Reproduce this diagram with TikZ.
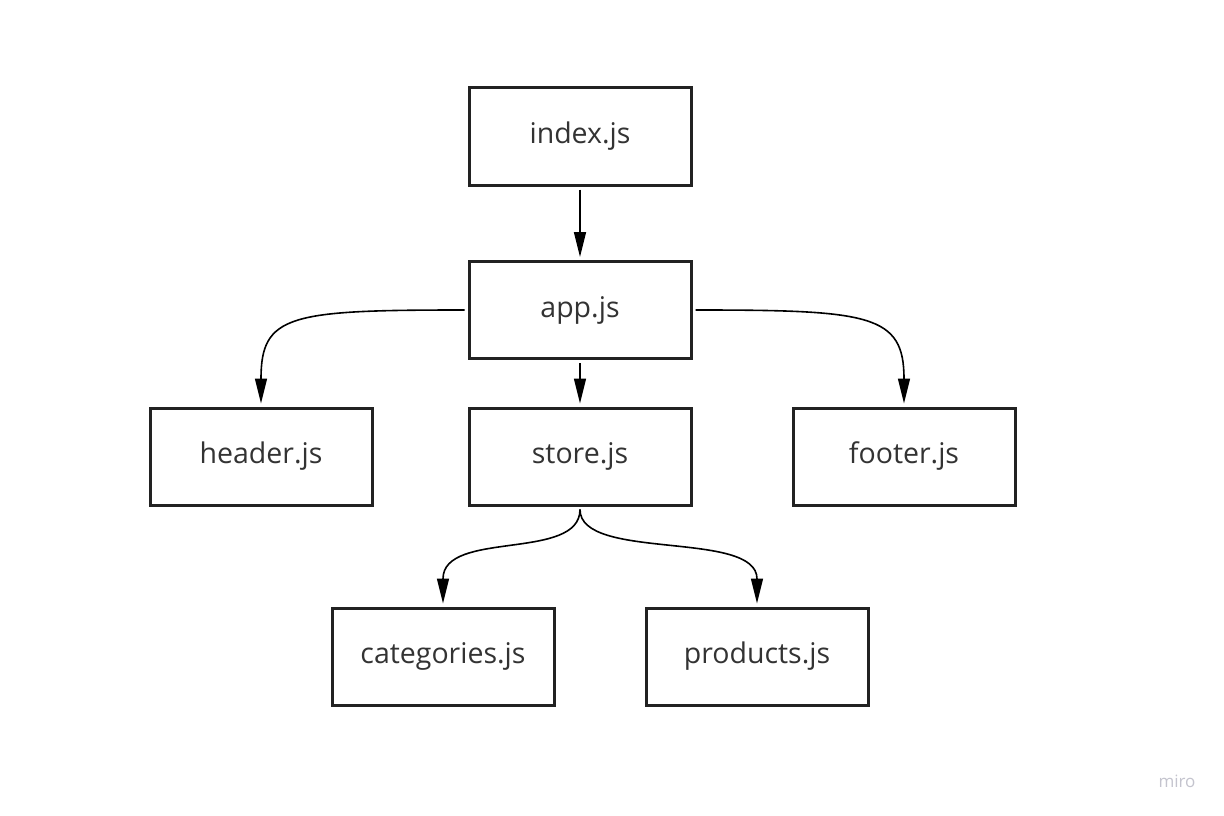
\documentclass[tikz,border=0pt]{standalone}
\usepackage{fontspec}
\setmainfont{Open Sans}
\usetikzlibrary{arrows.meta}
\definecolor{boxline}{HTML}{222222}
\definecolor{txt}{HTML}{333333}
\definecolor{mirogray}{HTML}{C4C4CE}
\begin{document}
\begin{tikzpicture}[x=1pt,y=-1pt,
  filebox/.style={draw=boxline,line width=3pt,minimum width=222pt,minimum height=97pt,inner sep=0pt,text=txt,font=\fontsize{28.5}{32}\selectfont},
  link/.style={draw=black,line width=1.6pt,-{Triangle[length=25pt,width=12pt]},shorten <=3pt,shorten >=3pt}]
\useasboundingbox (0,0) rectangle (1224,816);
\fill[white] (0,0) rectangle (1224,816);
\node[filebox] (index) at (580,136.5) {index.js};
\node[filebox] (app) at (580,310) {app.js};
\node[filebox] (header) at (261,456.5) {header.js};
\node[filebox] (store) at (580,456.5) {store.js};
\node[filebox] (footer) at (904,456.5) {footer.js};
\node[filebox] (cat) at (443,656.5) {categories.js};
\node[filebox] (prod) at (757,656.5) {products.js};
\path[link] (index.south) -- (app.north);
\path[link] (app.south) -- (store.north);
\path[link] (app.west) .. controls +(-178,0) and +(0,-92) .. (header.north);
\path[link] (app.east) .. controls +(178,0) and +(0,-92) .. (footer.north);
\path[link] (store.south) .. controls +(0,55) and +(0,-77) .. (cat.north);
\path[link] (store.south) .. controls +(0,55) and +(0,-77) .. (prod.north);
\node[text=mirogray,font=\fontsize{17}{20}\selectfont] (miro) at (1177,781) {miro};
\end{tikzpicture}
\end{document}
